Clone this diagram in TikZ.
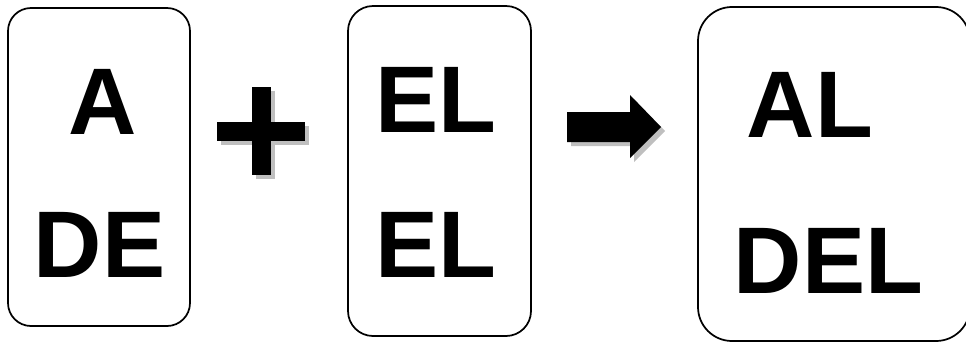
\documentclass[tikz,border=0pt]{standalone}
\usepackage{fontspec}
\setmainfont{Liberation Sans}
\usetikzlibrary{calc}

\begin{document}
\begin{tikzpicture}[x=0.75pt, y=-0.75pt,
    card/.style={draw, line width=1.3pt, rounded corners=#1*0.75pt, inner sep=0pt},
    word/.style={anchor=base, inner sep=0pt, font=\fontsize{71}{78}\bfseries\selectfont},
    shade/.style={fill=black!25, draw=none}]
  \def\u{0.75pt}
  \useasboundingbox (0,0) rectangle (966,343);
  % left card
  \node[card=23, minimum width=182*\u, minimum height=318*\u] (first) at (99,167) {};
  \node[word] (a) at (102.5,134) {A};
  \node[word] (de) at (99.5,277) {DE};
  % plus sign
  \fill[shade] (256,91) rectangle (275,179);
  \fill[shade] (221,126) rectangle (309,145);
  \fill (252,87) rectangle (271,175);
  \fill (217,122) rectangle (305,141);
  % middle card
  \node[card=25, minimum width=183*\u, minimum height=330*\u] (second) at (439.5,171) {};
  \node[word] (el) at (435.5,132) {EL};
  \node[word] (elb) at (435.5,277) {EL};
  % arrow
  \fill[shade] (571,116) -- (634,116) -- (634,99) -- (665,131) -- (634,162) -- (634,146) -- (571,146) -- cycle;
  \fill (567,112) -- (630,112) -- (630,95) -- (661,127) -- (630,158) -- (630,142) -- (567,142) -- cycle;
  % right card
  \node[card=34, minimum width=272*\u, minimum height=334*\u] (result) at (834,174) {};
  \node[word] (al) at (810,137) {AL};
  \node[word] (del) at (828.5,293) {DEL};
\end{tikzpicture}
\end{document}
